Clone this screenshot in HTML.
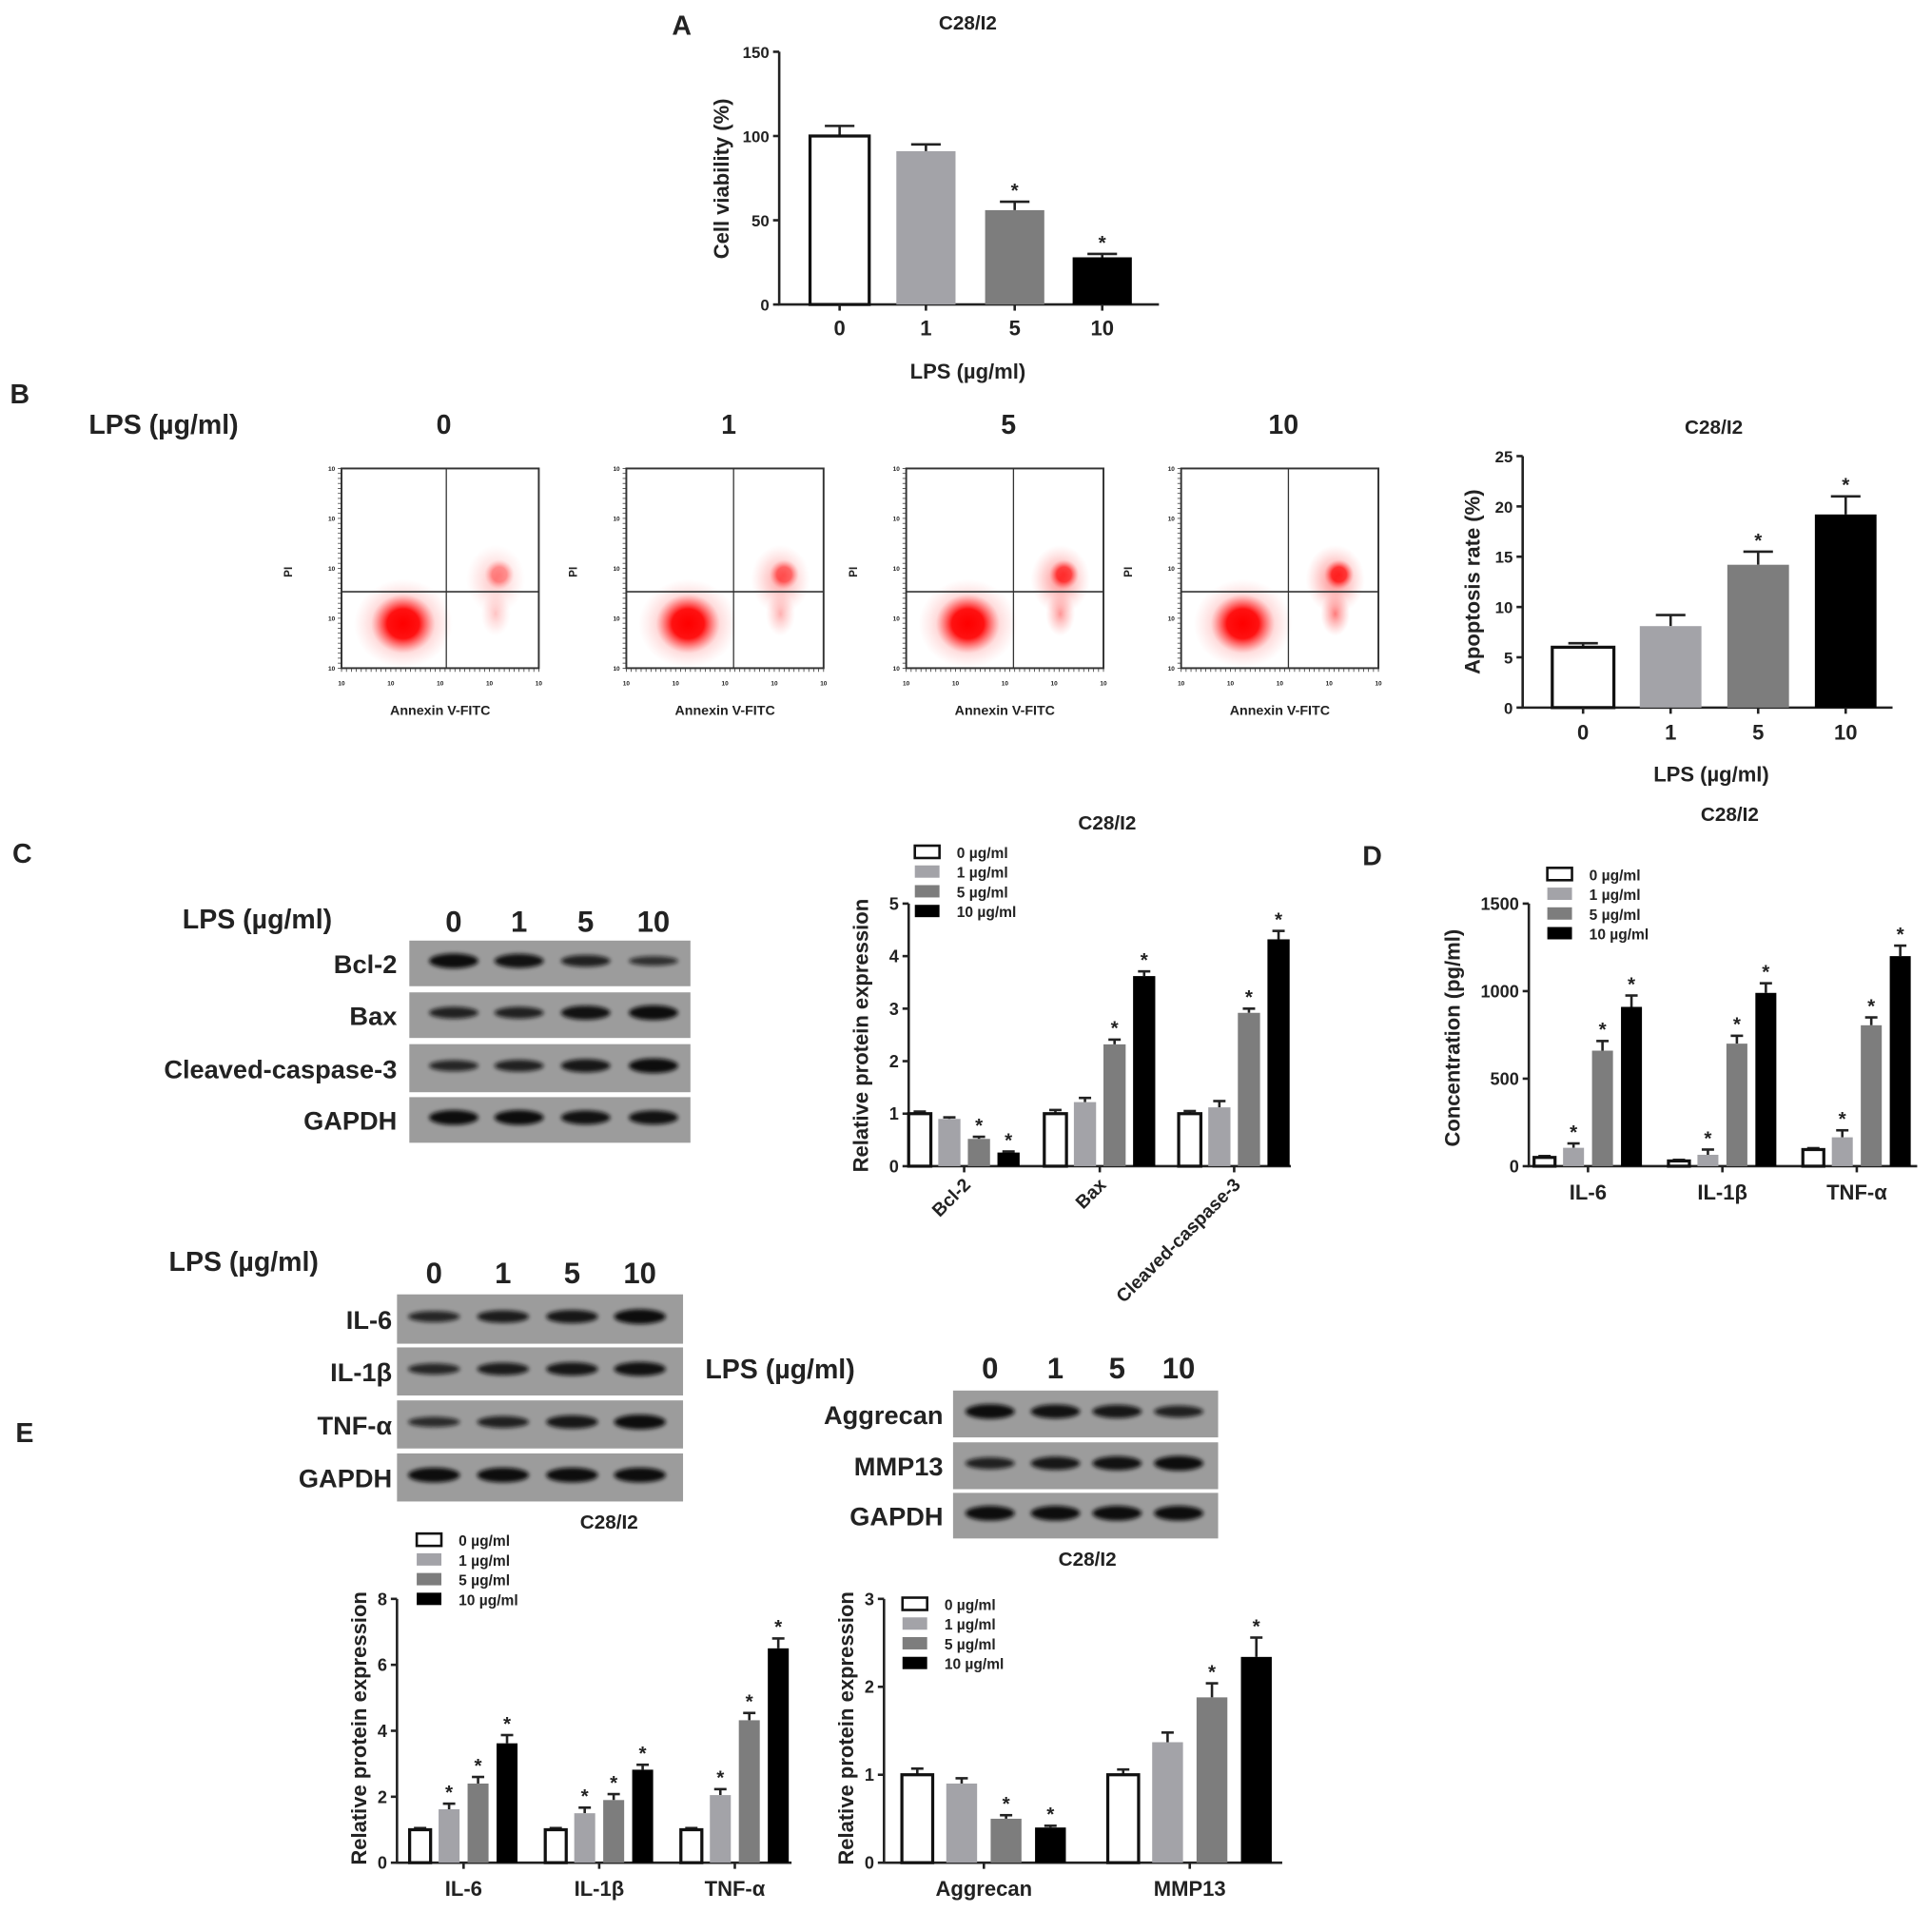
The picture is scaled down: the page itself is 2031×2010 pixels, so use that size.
<!DOCTYPE html>
<html><head><meta charset="utf-8"><style>
html,body{margin:0;padding:0;background:#fff;}
svg{display:block;}
text{font-family:"Liberation Sans",Arial,sans-serif;font-weight:bold;fill:#222;}
</style></head><body>
<svg id="fig" width="2031" height="2010" viewBox="0 0 1567 1551" preserveAspectRatio="none" xmlns="http://www.w3.org/2000/svg">
<defs>
<filter id="blur1" x="-20%" y="-50%" width="140%" height="200%"><feGaussianBlur stdDeviation="1.6"/></filter>
<radialGradient id="dots" cx="50%" cy="50%" r="50%">
<stop offset="0" stop-color="#f00" stop-opacity="1"/><stop offset="0.5" stop-color="#f00" stop-opacity="0.9"/><stop offset="0.8" stop-color="#f33" stop-opacity="0.35"/><stop offset="1" stop-color="#f66" stop-opacity="0"/>
</radialGradient>
<radialGradient id="dotsLight" cx="50%" cy="50%" r="50%">
<stop offset="0" stop-color="#f22" stop-opacity="0.6"/><stop offset="0.6" stop-color="#f55" stop-opacity="0.25"/><stop offset="1" stop-color="#f88" stop-opacity="0"/>
</radialGradient>
</defs>
<g id="root"></g>
</svg>
<script>
// ---------- data ----------
const doseCats = ["0","1","5","10"];
const legendLabels = ["0 µg/ml","1 µg/ml","5 µg/ml","10 µg/ml"];
const viabilityVals = [100, 91, 56, 28];
const viabilityErr = [6, 4, 5, 2];
const viabilityTicks = [0, 50, 100, 150];
const apoptosisVals = [6, 8.1, 14.2, 19.2];
const apoptosisErr = [0.4, 1.1, 1.3, 1.8];
const apoptosisTicks = [0, 5, 10, 15, 20, 25];
const cGroups = ["Bcl-2","Bax","Cleaved-caspase-3"];
const cVals = [[1,0.9,0.52,0.26],[1,1.22,2.32,3.62],[1,1.12,2.92,4.32]];
const cErr = [[0.04,0.03,0.04,0.02],[0.07,0.08,0.09,0.09],[0.05,0.12,0.08,0.16]];
const cTicks = [0,1,2,3,4,5];
const dGroups = ["IL-6","IL-1β","TNF-α"];
const dVals = [[50,105,660,910],[30,65,700,990],[95,165,805,1200]];
const dErr = [[8,25,55,65],[6,30,45,55],[8,40,45,60]];
const dTicks = [0,500,1000,1500];
const eGroups = ["IL-6","IL-1β","TNF-α"];
const eVals = [[1,1.62,2.4,3.62],[1,1.5,1.9,2.82],[1,2.05,4.32,6.5]];
const eErr = [[0.05,0.17,0.2,0.25],[0.05,0.17,0.18,0.15],[0.05,0.18,0.22,0.3]];
const eTicks = [0,2,4,6,8];
const fGroups = ["Aggrecan","MMP13"];
const fVals = [[1,0.9,0.5,0.4],[1,1.37,1.88,2.34]];
const fErr = [[0.07,0.06,0.04,0.02],[0.06,0.11,0.16,0.22]];
const fTicks = [0,1,2,3];
const starsA = [false,false,true,true];
const starsGrouped = [false,true,true,true];
const starsC = [[false,false,true,true],[false,false,true,true],[false,false,true,true]];
const starsF = [[false,false,true,true],[false,false,true,true]];

const fills = ["#fff","#a3a3a8","#7d7d7d","#000"];
const NS = "http://www.w3.org/2000/svg";
const root = document.getElementById("root");
function el(tag, attrs, parent, txt){
  const e = document.createElementNS(NS, tag);
  for (const k in attrs) e.setAttribute(k, attrs[k]);
  if (txt !== undefined) e.textContent = txt;
  (parent || root).appendChild(e);
  return e;
}
function txt(x,y,s,size,anchor,parent,extra){
  const a = {x:x,y:y,"font-size":size,"text-anchor":anchor||"middle"};
  if (extra) for (const k in extra) a[k]=extra[k];
  return el("text",a,parent,s);
}

function barChart(cfg){
  const g = el("g",{});
  
  
  const ymax = cfg.ticks[cfg.ticks.length-1];
  const ys = v => cfg.y0 - (v/ymax)*(cfg.y0-cfg.y1);
  const ax = el("path",{d:`M${cfg.x0} ${cfg.y1} V${cfg.y0} H${cfg.x2}`,stroke:"#222","stroke-width":2,fill:"none"},g);
  
  
  cfg.ticks.forEach(t=>{
    const y = ys(t);
    el("line",{x1:cfg.x0-5,x2:cfg.x0,y1:y,y2:y,stroke:"#222","stroke-width":2},g);
    const tl = txt(cfg.x0-8,y+5,String(t),cfg.tickSize||14,"end",g);
    
    
  });
  cfg.bars.forEach((b,i)=>{
    const top = ys(b.v), bot = ys(0);
    const eTop = ys(b.v + b.e);
    el("line",{x1:b.cx,x2:b.cx,y1:top,y2:eTop,stroke:"#222","stroke-width":2},g);
    el("line",{x1:b.cx-cfg.cap,x2:b.cx+cfg.cap,y1:eTop,y2:eTop,stroke:"#222","stroke-width":2},g);
    const r = el("rect",{x:b.cx-cfg.bw/2,y:top,width:cfg.bw,height:bot-top,fill:fills[b.s],stroke:b.s===0?"#111":"none","stroke-width":b.s===0?2.5:0},g);
    
    
    if (b.star){ const st = txt(b.cx, eTop-4, "*", cfg.starSize||16, "middle", g);   }
  });
  return {g, ys};
}

// ---------- Panel A ----------
txt(553,28,"A",22,"middle",null);
txt(785,24,"C28/I2",16);
(function(){
  const xs = [681,751,823,894];
  const bars = viabilityVals.map((v,i)=>({cx:xs[i],v:v,e:viabilityErr[i],s:i,star:starsA[i],label:doseCats[i]}));
  const c = barChart({name:"cell-viability-chart",x0:632,x2:940,y0:247,y1:42,ticks:viabilityTicks,bars:bars,bw:48,cap:12,tickSize:13});
  xs.forEach((x,i)=>{ el("line",{x1:x,x2:x,y1:247,y2:252,stroke:"#222","stroke-width":2},c.g); const t=txt(x,272,doseCats[i],17,"middle",c.g);  });
  const xl = txt(785,307,"LPS (µg/ml)",17); 
  const yl = txt(0,0,"Cell viability (%)",17,"middle",null,{transform:"translate(591,145) rotate(-90)"}); 
})();

// ---------- Panel B ----------
txt(16,327,"B",22,"middle");
txt(72,352,"LPS (µg/ml)",22,"start");
const flowX = [277,508,735,958];
const flowW = 160;
const flowLabels = ["0","1","5","10"];
const flowUR = [[0.3,0.5,0.25],[0.55,0.7,0.4],[0.75,0.9,0.6],[0.95,1,0.8]];
flowX.forEach((x,i)=>{
  const g = el("g",{});
  
  
  txt(x+83,352,flowLabels[i],22,"middle",g);
  const y1=380,y2=542,qx=x+85+ (i===0?0:2),qy=480;
  el("ellipse",{cx:x+50,cy:y2-36,rx:40,ry:36,fill:"url(#dotsLight)"},g);
  el("ellipse",{cx:x+50,cy:y2-36,rx:26,ry:24,fill:"url(#dots)"},g);
  const s = flowUR[i];
  el("ellipse",{cx:x+125,cy:y1+90,rx:24,ry:28,fill:"url(#dotsLight)","opacity":s[0]+0.2},g);
  el("ellipse",{cx:x+128,cy:y1+86,rx:12,ry:12,fill:"url(#dots)","opacity":s[1]*0.8},g);
  el("ellipse",{cx:x+125,cy:y1+118,rx:12,ry:18,fill:"url(#dotsLight)","opacity":s[2]+0.2},g);
  el("rect",{x:x,y:y1,width:flowW,height:y2-y1,fill:"none",stroke:"#333","stroke-width":1.5},g);
  el("line",{x1:x,x2:x+flowW,y1:qy,y2:qy,stroke:"#333","stroke-width":1.3},g);
  el("line",{x1:qx,x2:qx,y1:y1,y2:y2,stroke:"#333","stroke-width":1},g);
  for(let k=0;k<5;k++){
    const ty = y2 - k*(y2-y1)/4, tx = x + k*flowW/4;
    txt(x-8,ty+2,"10",5,"middle",g,{"font-weight":"normal"});
    txt(tx,y2+14,"10",5,"middle",g,{"font-weight":"normal"});
  }
  for(let k=0;k<=40;k++){
    el("line",{x1:x+k*flowW/40,x2:x+k*flowW/40,y1:y2,y2:y2+3,stroke:"#333","stroke-width":0.6},g);
    el("line",{x1:x-3,x2:x,y1:y1+k*(y2-y1)/40,y2:y1+k*(y2-y1)/40,stroke:"#333","stroke-width":0.6},g);
  }
  txt(x+80,y2+38,"Annexin V-FITC",11,"middle",g);
  txt(0,0,"PI",9,"middle",g,{transform:`translate(${x-40},${qy-16}) rotate(-90)`});
});
txt(1390,352,"C28/I2",16);
(function(){
  const xs = [1284,1355,1426,1497];
  const bars = apoptosisVals.map((v,i)=>({cx:xs[i],v:v,e:apoptosisErr[i],s:i,star:starsA[i],label:doseCats[i]}));
  const c = barChart({name:"apoptosis-rate-chart",x0:1235,x2:1535,y0:574,y1:370,ticks:apoptosisTicks,bars:bars,bw:50,cap:12,tickSize:13});
  xs.forEach((x,i)=>{ el("line",{x1:x,x2:x,y1:574,y2:579,stroke:"#222","stroke-width":2},c.g); const t=txt(x,600,doseCats[i],17,"middle",c.g);  });
  txt(1388,634,"LPS (µg/ml)",17);
  txt(0,0,"Apoptosis rate (%)",17,"middle",null,{transform:"translate(1200,472) rotate(-90)"});
})();

// ---------- blots ----------
function blot(cfg){
  const g = el("g",{});
  
  
  cfg.rows.forEach((r,ri)=>{
    el("rect",{x:cfg.x,y:r.y,width:cfg.w,height:r.h,fill:"#9c9c9c"},g);
    const lb = txt(cfg.labelX,r.y+r.h/2+8,r.label,cfg.labelSize,"end",g);
    
    
    cfg.lanes.forEach((lx,li)=>{
      const th = r.t[li];
      el("ellipse",{cx:lx,cy:r.y+r.h/2-2,rx:cfg.bandW/2,ry:3+3*th,fill:"#111",opacity:0.65+0.35*th,filter:"url(#blur1)"},g);
    });
  });
  cfg.lanes.forEach((lx,li)=>{ txt(lx,cfg.laneY,doseCats[li],24,"middle",g); });
  txt(cfg.lpsX,cfg.lpsY,"LPS (µg/ml)",cfg.lpsSize,"start",g);
  return g;
}
txt(18,700,"C",22);
blot({name:"western-blot-c",x:332,w:228,lanes:[368,421,475,530],laneY:756,bandW:40,labelX:322,labelSize:21,lpsX:148,lpsY:753,lpsSize:22,
  rows:[{label:"Bcl-2",y:763,h:37,t:[1,0.9,0.6,0.3]},{label:"Bax",y:805,h:37,t:[0.6,0.6,0.9,1]},{label:"Cleaved-caspase-3",y:847,h:39,t:[0.5,0.6,0.8,1]},{label:"GAPDH",y:890,h:37,t:[1,1,0.9,0.9]}]});
txt(20,1170,"E",22);
blot({name:"western-blot-e-cytokines",x:322,w:232,lanes:[352,408,464,519],laneY:1041,bandW:42,labelX:318,labelSize:21,lpsX:137,lpsY:1031,lpsSize:22,
  rows:[{label:"IL-6",y:1050,h:40,t:[0.5,0.7,0.8,1]},{label:"IL-1β",y:1093,h:39,t:[0.5,0.7,0.8,0.9]},{label:"TNF-α",y:1136,h:39,t:[0.4,0.6,0.8,1]},{label:"GAPDH",y:1179,h:39,t:[1,1,1,1]}]});
txt(494,1240,"C28/I2",16);
blot({name:"western-blot-e-matrix",x:773,w:215,lanes:[803,856,906,956],laneY:1118,bandW:40,labelX:765,labelSize:21,lpsX:572,lpsY:1118,lpsSize:22,
  rows:[{label:"Aggrecan",y:1128,h:38,t:[1,0.9,0.8,0.6]},{label:"MMP13",y:1170,h:38,t:[0.6,0.8,0.9,1]},{label:"GAPDH",y:1211,h:37,t:[1,1,1,1]}]});
txt(882,1270,"C28/I2",16);

// ---------- grouped charts ----------
function legend(x,y,name,size){
  const g = el("g",{});
  
  
  legendLabels.forEach((l,i)=>{
    el("rect",{x:x,y:y+i*16,width:20,height:10,fill:fills[i],stroke:i===0?"#111":"none","stroke-width":2},g);
    txt(x+34,y+i*16+10,l,size||12,"start",g);
  });
}
function grouped(cfg){
  const bars=[];
  cfg.vals.forEach((arr,gi)=>arr.forEach((v,si)=>{
    bars.push({cx:cfg.centers[gi]+(si-1.5)*cfg.step,v:v,e:cfg.err[gi][si],s:si,star:cfg.stars[gi][si],label:cfg.groups[gi]+'-'+doseCats[si]});
  }));
  const c = barChart({name:cfg.name,x0:cfg.x0,x2:cfg.x2,y0:cfg.y0,y1:cfg.y1,ticks:cfg.ticks,bars:bars,bw:cfg.bw,cap:5,tickSize:14,starSize:16});
  cfg.centers.forEach((x,i)=>{
    el("line",{x1:x,x2:x,y1:cfg.y0,y2:cfg.y0+5,stroke:"#222","stroke-width":2},c.g);
    let t;
    if (cfg.rot) t = txt(0,0,cfg.groups[i],15,"end",c.g,{transform:`translate(${x+6},${cfg.y0+16}) rotate(-45)`});
    else t = txt(x,cfg.y0+27,cfg.groups[i],17,"middle",c.g);
    
    
  });
  const yl = txt(0,0,cfg.ylabel,17,"middle",null,{transform:`translate(${cfg.ylx},${cfg.yly}) rotate(-90)`});
  
  
}
txt(898,673,"C28/I2",16);
legend(742,686,"legend-c");
grouped({name:"chart-c-protein",groups:cGroups,vals:cVals,err:cErr,stars:starsC,ticks:cTicks,centers:[782,892,1001],step:24,bw:18,x0:737,x2:1047,y0:946,y1:733,rot:true,ylabel:"Relative protein expression",ylx:704,yly:840});
txt(1113,702,"D",22);
txt(1403,666,"C28/I2",16);
legend(1255,704,"legend-d");
grouped({name:"chart-d-concentration",groups:dGroups,vals:dVals,err:dErr,stars:starsGrouped.map(()=>starsGrouped),ticks:dTicks,centers:[1288,1397,1506],step:23.5,bw:17,x0:1240,x2:1555,y0:946,y1:733,rot:false,ylabel:"Concentration (pg/ml)",ylx:1184,yly:842});
legend(338,1244,"legend-e-left");
grouped({name:"chart-e-cytokines",groups:eGroups,vals:eVals,err:eErr,stars:starsGrouped.map(()=>starsGrouped),ticks:eTicks,centers:[376,486,596],step:23.5,bw:17,x0:322,x2:642,y0:1511,y1:1297,rot:false,ylabel:"Relative protein expression",ylx:297,yly:1402});
legend(732,1296,"legend-e-right");
grouped({name:"chart-e-matrix",groups:fGroups,vals:fVals,err:fErr,stars:starsF,ticks:fTicks,centers:[798,965],step:36,bw:25,x0:717,x2:1040,y0:1511,y1:1297,rot:false,ylabel:"Relative protein expression",ylx:692,yly:1402});
</script>
</body></html>
